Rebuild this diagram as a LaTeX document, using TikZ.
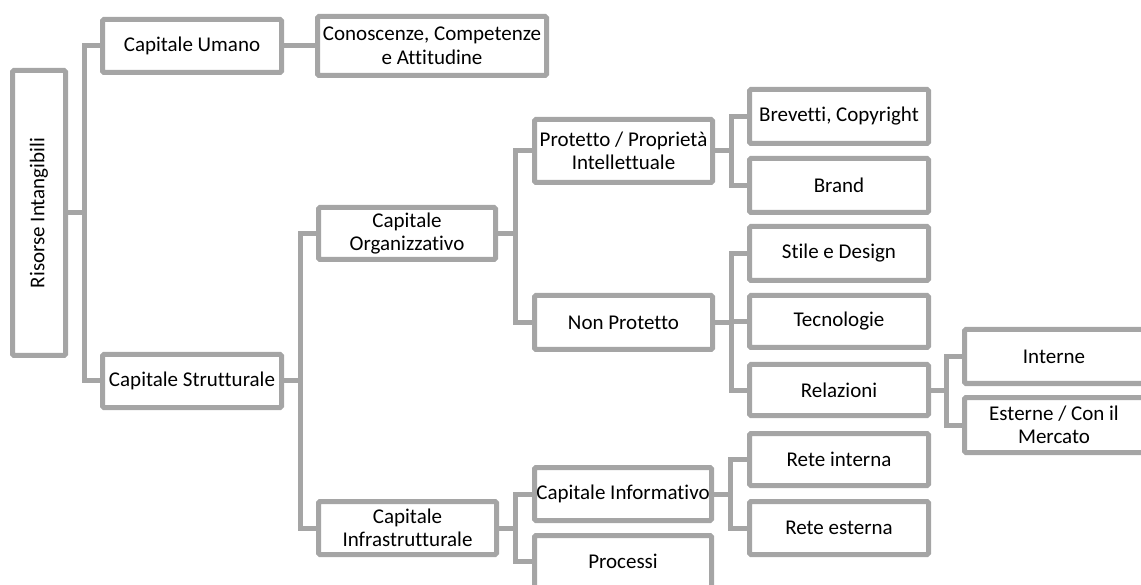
\documentclass[tikz,border=0pt]{standalone}
\usepackage{fontspec}
\setmainfont{Carlito}[Ligatures={NoCommon}]
\usetikzlibrary{calc}

\definecolor{linegray}{HTML}{A5A5A5}

\tikzset{
  box/.style={draw=linegray, line width=5pt, fill=white, rounded corners=1.5pt,
    inner sep=0pt, align=center, text=black,
    font=\fontsize{21}{23.5}\selectfont},
  link/.style={draw=linegray, line width=5pt}
}

% box from its outer edges: name, x1, y1, x2, y2, options, text
\newcommand\bx[7]{%
  \node[box, #6, minimum width={(#4-#2-5)*1pt}, minimum height={(#5-#3-5)*1pt}]
    (#1) at ({(#2+#4)/2},{-(#3+#5)/2}) {#7};}

% elbow connector from a parent to a child, trunk halfway between them
\newcommand\lnk[2]{%
  \draw[link] (#1.east) -- ($(#1.east)!0.5!(#1.east -| #2.west)$) |- (#2.west);}

\begin{document}
\begin{tikzpicture}[x=1pt, y=1pt]
\useasboundingbox (0,0) rectangle (1141,-585);
\clip (0,0) rectangle (1141,-585);

\bx{root}{10}{68}{68}{358}{}{}
\bx{umano}{100}{17}{284}{75}{}{Capitale Umano}
\bx{conosc}{315}{14}{549}{78}{}{Conoscenze, Competenze\\e Attitudine}
\bx{strutt}{100}{352}{284}{410}{}{Capitale Strutturale}
\bx{organ}{316}{205}{498}{262}{}{Capitale\\Organizzativo}
\bx{infra}{316}{499}{499}{557}{}{Capitale\\Infrastrutturale}
\bx{protetto}{532}{117}{715}{185}{}{Protetto / Proprietà\\Intellettuale}
\bx{nonprot}{532}{293}{715}{352}{}{Non Protetto}
\bx{brevetti}{747}{87}{931}{146}{}{Brevetti, Copyright}
\bx{brand}{747}{156}{931}{215}{}{Brand}
\bx{stile}{747}{224}{931}{283}{}{Stile e Design}
\bx{tecno}{747}{293}{931}{350}{}{Tecnologie}
\bx{relaz}{747}{362}{931}{418}{}{Relazioni}
\bx{interne}{962}{327}{1146}{386}{}{Interne}
\bx{esterne}{962}{395}{1146}{455}{}{Esterne / Con il\\Mercato}
\bx{informativo}{532}{465}{714}{523}{}{Capitale Informativo}
\bx{processi}{532}{533}{714}{590}{}{Processi}
\bx{reteint}{747}{431}{931}{488}{}{Rete interna}
\bx{reteest}{747}{499}{931}{557}{}{Rete esterna}

\node[rotate=90, font=\fontsize{21}{23.5}\selectfont] (roottext) at (root.center) {Risorse Intangibili};

% tree connectors
\lnk{root}{umano}
\lnk{root}{strutt}
\lnk{umano}{conosc}
\lnk{strutt}{organ}
\lnk{strutt}{infra}
\lnk{organ}{protetto}
\lnk{organ}{nonprot}
\lnk{protetto}{brevetti}
\lnk{protetto}{brand}
\lnk{nonprot}{stile}
\lnk{nonprot}{tecno}
\lnk{nonprot}{relaz}
\lnk{relaz}{interne}
\lnk{relaz}{esterne}
\lnk{infra}{informativo}
\lnk{infra}{processi}
\lnk{informativo}{reteint}
\lnk{informativo}{reteest}
\end{tikzpicture}
\end{document}
